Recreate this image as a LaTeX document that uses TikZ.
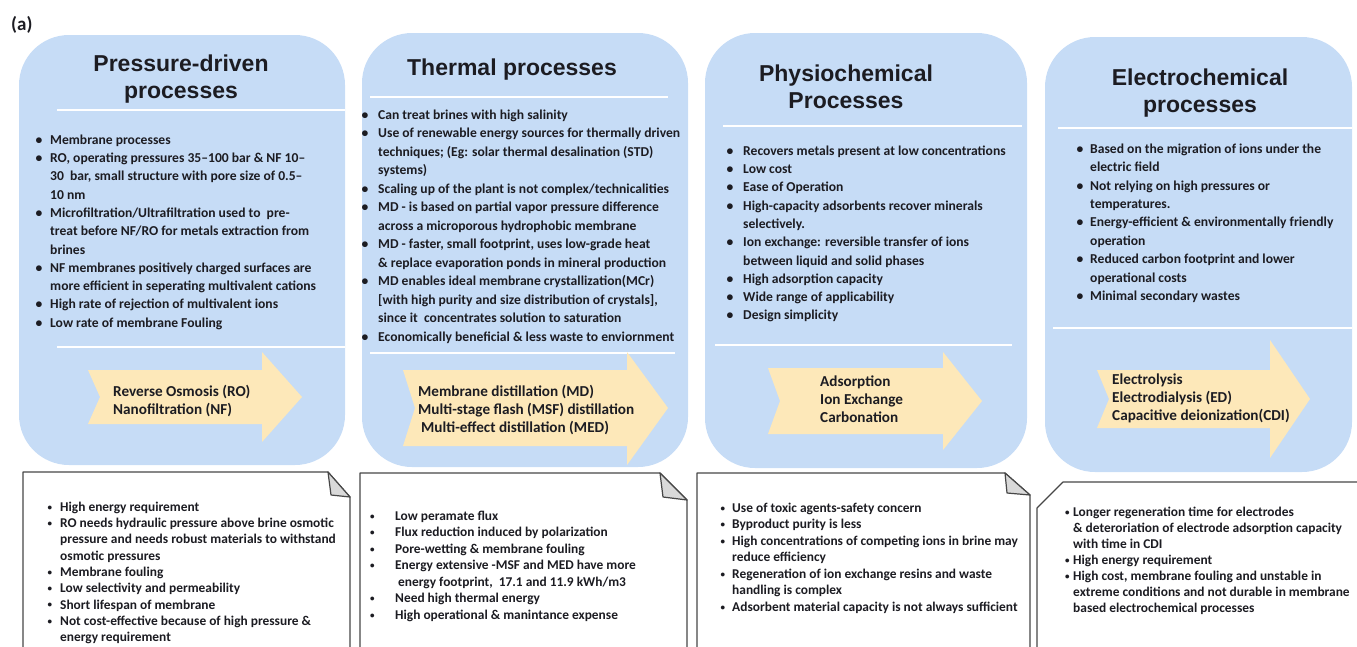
\documentclass[tikz,border=0pt]{standalone}
\usepackage{fontspec}
\setmainfont{Carlito}
\newfontfamily\titlefont{Liberation Sans}
\definecolor{boxblue}{RGB}{198,220,246}
\definecolor{arrowyel}{RGB}{253,232,185}
\definecolor{notegray}{RGB}{217,217,217}
\definecolor{txt}{RGB}{28,28,34}
\newcommand\itm[2]{\makebox[#1pt][l]{\textbullet}#2}
\newcommand\sitm[2]{\makebox[#1pt][l]{\raisebox{1.2pt}{\fontsize{9}{9}\selectfont\textbullet}}#2}
\newcommand\cnt[2]{\hspace*{#1pt}#2}
\newcommand\tops[1]{\rule{0pt}{#1pt}}
\tikzset{
  panel/.style={fill=boxblue, rounded corners=50pt},
  sepline/.style={draw=white, line width=2pt},
  yarrow/.style={fill=arrowyel},
  note/.style={draw=black!72, fill=white, line width=1.2pt, line join=round},
  fold/.style={draw=black!72, fill=notegray, line width=1.2pt, line join=round},
  ttl/.style={anchor=north, inner sep=0, align=center, text=txt,
    font=\titlefont\bfseries\fontsize{23}{27.5}\selectfont},
  lst/.style={anchor=north west, inner sep=0, align=left, text=txt,
    font=\bfseries\fontsize{13.6}{#1}\selectfont},
  lst/.default=18.3,
  blst/.style={anchor=north west, inner sep=0, align=left, text=txt,
    font=\bfseries\fontsize{13.4}{#1}\selectfont},
  blst/.default=16.3,
  atxt/.style={anchor=north west, inner sep=0, align=left, text=txt,
    font=\bfseries\fontsize{15.2}{17.8}\selectfont},
}
\begin{document}
\begin{tikzpicture}[x=1pt,y=-1pt]
\useasboundingbox (0,0) rectangle (1357,646);
\clip (0,0) rectangle (1357,646);

% label
\node[anchor=base west, inner sep=0, text=txt, font=\bfseries\fontsize{19}{19}\selectfont] (lbl) at (11,30) {(a)};

% blue panels
\fill[panel] (19,35) rectangle (345,465);
\fill[panel] (362,33) rectangle (688,467);
\fill[panel] (705,33) rectangle (1027,468);
\fill[panel] (1045,37) rectangle (1352,472);

% separators
\draw[sepline] (57,110) -- (345,110);
\draw[sepline] (57,347) -- (345,347);
\draw[sepline] (370,97) -- (668,97);
\draw[sepline] (370,353) -- (675,353);
\draw[sepline] (723,126) -- (1022,126);
\draw[sepline] (715,345) -- (1012,345);
\draw[sepline] (1058,128) -- (1352,128);
\draw[sepline] (1053,328) -- (1352,328);

% titles
\node[ttl] (t1) at (181,51) {\tops{20}Pressure-driven\\processes};
\node[ttl] (t2) at (512,55) {\tops{20}Thermal processes};
\node[ttl] (t3) at (846,61) {\tops{20}Physiochemical\\Processes};
\node[ttl] (t4) at (1200,65) {\tops{20}Electrochemical\\processes};

% advantage lists
\node[lst] (l1) at (35.5,132) {\tops{12}\itm{14.5}{Membrane processes}\\
\itm{14.5}{RO, operating pressures 35--100 bar \& NF 10--}\\
\cnt{14.5}{30\ \ bar, small structure with pore size of 0.5--}\\
\cnt{14.5}{10 nm}\\
\itm{14.5}{Microfiltration/Ultrafiltration used to\ \ pre-}\\
\cnt{14.5}{treat before NF/RO for metals extraction from}\\
\cnt{14.5}{brines}\\
\itm{14.5}{NF membranes positively charged surfaces are}\\
\cnt{14.5}{more efficient in seperating multivalent cations}\\
\itm{14.5}{High rate of rejection of multivalent ions}\\
\itm{14.5}{Low rate of membrane Fouling}};

\node[lst=18.5] (l2) at (361.5,107) {\tops{12}\itm{16.5}{Can treat brines with high salinity}\\
\itm{16.5}{Use of renewable energy sources for thermally driven}\\
\cnt{16.5}{techniques; (Eg: solar thermal desalination (STD)}\\
\cnt{16.5}{systems)}\\
\itm{16.5}{Scaling up of the plant is not complex/technicalities}\\
\itm{16.5}{MD - is based on partial vapor pressure difference}\\
\cnt{16.5}{across a microporous hydrophobic membrane}\\
\itm{16.5}{MD - faster, small footprint, uses low-grade heat}\\
\cnt{16.5}{\& replace evaporation ponds in mineral production}\\
\itm{16.5}{MD enables ideal membrane crystallization(MCr)}\\
\cnt{16.5}{[with high purity and size distribution of crystals],}\\
\cnt{16.5}{since it\ \ concentrates solution to saturation}\\
\itm{16.5}{Economically beneficial \& less waste to enviornment}};

\node[lst] (l3) at (726.5,143) {\tops{12}\itm{16.5}{Recovers metals present at low concentrations}\\
\itm{16.5}{Low cost}\\
\itm{16.5}{Ease of Operation}\\
\itm{16.5}{High-capacity adsorbents recover minerals}\\
\cnt{16.5}{selectively.}\\
\itm{16.5}{Ion exchange: reversible transfer of ions}\\
\cnt{16.5}{between liquid and solid phases}\\
\itm{16.5}{High adsorption capacity}\\
\itm{16.5}{Wide range of applicability}\\
\itm{16.5}{Design simplicity}};

\node[lst=18.4] (l4) at (1076.5,141) {\tops{12}\itm{13.5}{Based on the migration of ions under the}\\
\cnt{13.5}{electric field}\\
\itm{13.5}{Not relying on high pressures or}\\
\cnt{13.5}{temperatures.}\\
\itm{13.5}{Energy-efficient \& environmentally friendly}\\
\cnt{13.5}{operation}\\
\itm{13.5}{Reduced carbon footprint and lower}\\
\cnt{13.5}{operational costs}\\
\itm{13.5}{Minimal secondary wastes}};

% yellow arrows
\fill[yarrow] (88,370) -- (262,370) -- (262,352) -- (302,397) -- (262,442) -- (262,424) -- (88,424) -- (100,397) -- cycle;
\fill[yarrow] (403,370) -- (627,370) -- (627,352) -- (668,408) -- (627,465) -- (627,446) -- (403,446) -- (415,408) -- cycle;
\fill[yarrow] (768,368) -- (943,368) -- (943,352) -- (982,401) -- (943,450) -- (943,434) -- (768,434) -- (780,401) -- cycle;
\fill[yarrow] (1097,370) -- (1270,370) -- (1270,340) -- (1310,399) -- (1270,458) -- (1270,428) -- (1097,428) -- (1109,399) -- cycle;

% arrow texts
\node[atxt] (a1) at (113,383.5) {\tops{13}Reverse Osmosis (RO)\\Nanofiltration (NF)};
\node[atxt] (a2) at (418,383.5) {\tops{13}Membrane distillation (MD)\\Multi-stage flash (MSF) distillation\\\hspace*{3pt}Multi-effect distillation (MED)};
\node[atxt] (a3) at (820,373.5) {\tops{13}Adsorption\\Ion Exchange\\Carbonation};
\node[atxt] (a4) at (1112,371.5) {\tops{13}Electrolysis\\Electrodialysis (ED)\\Capacitive deionization(CDI)};

% note boxes
\draw[note] (23,660) -- (23,472) -- (328,472) -- (350,497) -- (350,660);
\draw[fold] (328,472) -- (331,495) -- (350,497) -- cycle;
\draw[note] (360,660) -- (360,473) -- (660,473) -- (687,500) -- (687,660);
\draw[fold] (660,473) -- (663,497) -- (687,500) -- cycle;
\draw[note] (697,660) -- (697,473) -- (1005,473) -- (1030,495) -- (1030,660);
\draw[fold] (1005,473) -- (1007,493) -- (1030,495) -- cycle;
\draw[note] (1037,660) -- (1037,508) -- (1063,482) -- (1370,482) -- (1370,660);

% disadvantage lists
\node[blst] (b1) at (47.5,499) {\tops{12}\sitm{12.5}{High energy requirement}\\
\sitm{12.5}{RO needs hydraulic pressure above brine osmotic}\\
\cnt{12.5}{pressure and needs robust materials to withstand}\\
\cnt{12.5}{osmotic pressures}\\
\sitm{12.5}{Membrane fouling}\\
\sitm{12.5}{Low selectivity and permeability}\\
\sitm{12.5}{Short lifespan of membrane}\\
\sitm{12.5}{Not cost-effective because of high pressure \&}\\
\cnt{12.5}{energy requirement}};

\node[blst=16.5] (b2) at (370,508) {\tops{12}\sitm{25}{Low peramate flux}\\
\sitm{25}{Flux reduction induced by polarization}\\
\sitm{25}{Pore-wetting \& membrane fouling}\\
\sitm{25}{Energy extensive -MSF and MED have more}\\
\cnt{28}{energy footprint,\ \ 17.1 and 11.9 kWh/m3}\\
\sitm{25}{Need high thermal energy}\\
\sitm{25}{High operational \& manintance expense}};

\node[blst=16.5] (b3) at (720.5,500) {\tops{12}\sitm{11.5}{Use of toxic agents-safety concern}\\
\sitm{11.5}{Byproduct purity is less}\\
\sitm{11.5}{High concentrations of competing ions in brine may}\\
\cnt{11.5}{reduce efficiency}\\
\sitm{11.5}{Regeneration of ion exchange resins and waste}\\
\cnt{11.5}{handling is complex}\\
\sitm{11.5}{Adsorbent material capacity is not always sufficient}};

\node[blst=16] (b4) at (1065,504) {\tops{12}\sitm{8}{Longer regeneration time for electrodes}\\
\cnt{8}{\& deteroriation of electrode adsorption capacity}\\
\cnt{8}{with time in CDI}\\
\sitm{8}{High energy requirement}\\
\sitm{8}{High cost, membrane fouling and unstable in}\\
\cnt{8}{extreme conditions and not durable in membrane}\\
\cnt{8}{based electrochemical processes}};
\end{tikzpicture}
\end{document}
